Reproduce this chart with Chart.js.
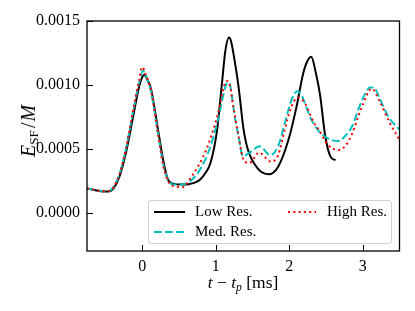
<!DOCTYPE html>
<html><head><meta charset="utf-8">
<script src="https://cdn.jsdelivr.net/npm/chart.js@4"></script>
<style>
html,body{margin:0;padding:0;background:#fff;}
#wrap{position:relative;width:415px;height:311px;overflow:hidden;font-family:"Liberation Serif",serif;color:#000;}
canvas{position:absolute;left:0;top:0;}
.ytitle{position:absolute;left:28px;top:131px;transform:translate(-50%,-50%) rotate(-90deg);font-size:20px;white-space:nowrap;line-height:1;}
.xtitle{position:absolute;left:243px;top:283px;transform:translate(-50%,-50%);font-size:17.5px;white-space:nowrap;line-height:1;}
sub{font-size:0.66em;vertical-align:-0.25em;line-height:0;font-style:normal;}
.sl{margin:0 1px 0 2px;}
.legend{position:absolute;left:148px;top:200px;width:244px;height:44px;border:1px solid #d0d0d0;border-radius:3px;background:rgba(255,255,255,0.8);box-sizing:border-box;}
.item{position:absolute;font-size:15px;line-height:1;white-space:nowrap;}
.item svg{position:absolute;}
</style>
</head><body>
<div id="wrap">
<canvas id="c" width="415" height="311"></canvas>
<div class="ytitle"><i>E</i><sub>SF</sub><span class="sl">/</span><i>M</i></div>
<div class="xtitle"><i>t</i> &minus; <i>t</i><sub><i>p</i></sub> [ms]</div>
<div class="legend" id="legend"></div>
</div>
<script>
// ---- data ----
const seriesNames = ["Low Res.", "Med. Res.", "High Res."];
const xTicks = [0, 1, 2, 3];
const yTicks = [0.0000, 0.0005, 0.0010, 0.0015];

const lowX = [-0.75,-0.54,-0.46,-0.39,-0.31,-0.22,-0.13,-0.04,0.0,0.03,0.07,0.12,0.21,0.29,0.35,0.42,0.54,0.65,0.79,0.86,0.93,1.02,1.09,1.13,1.18,1.21,1.24,1.31,1.38,1.44,1.58,1.72,1.85,1.99,2.10,2.19,2.26,2.30,2.36,2.42,2.49,2.56,2.63];
const lowY = [0.00019,0.000166,0.000165,0.00019,0.00028,0.00047,0.00073,0.00099,0.00106,0.00108,0.00104,0.00097,0.00067,0.00040,0.00026,0.000227,0.00022,0.000225,0.00026,0.00031,0.00039,0.00065,0.00104,0.00126,0.00137,0.00134,0.00125,0.00099,0.00065,0.00049,0.00034,0.00030,0.00036,0.00057,0.00083,0.00109,0.00120,0.00122,0.00110,0.00092,0.00060,0.00044,0.00041];

const medX = [-0.75,-0.54,-0.46,-0.39,-0.31,-0.22,-0.13,-0.04,0.01,0.06,0.12,0.21,0.29,0.36,0.42,0.55,0.66,0.79,0.93,1.04,1.15,1.18,1.26,1.31,1.37,1.46,1.60,1.74,1.85,1.94,2.03,2.11,2.17,2.21,2.30,2.40,2.53,2.67,2.76,2.85,2.99,3.10,3.15,3.24,3.35,3.50];
const medY = [0.00019,0.00017,0.00017,0.00020,0.00030,0.00050,0.00077,0.00102,0.00111,0.00106,0.00095,0.00064,0.00037,0.00025,0.00022,0.00022,0.00025,0.00034,0.00052,0.00075,0.00101,0.00102,0.00075,0.00060,0.00044,0.00047,0.00052,0.00045,0.00052,0.00070,0.00088,0.00095,0.00092,0.00086,0.00073,0.00064,0.00058,0.00056,0.00060,0.00067,0.00088,0.00098,0.00098,0.00088,0.00075,0.00065];

const highX = [-0.75,-0.54,-0.46,-0.39,-0.31,-0.22,-0.13,-0.04,0.0,0.05,0.12,0.21,0.29,0.36,0.45,0.55,0.67,0.87,1.02,1.15,1.18,1.24,1.31,1.39,1.46,1.59,1.75,1.85,1.94,2.03,2.12,2.21,2.33,2.40,2.53,2.67,2.76,2.85,2.99,3.12,3.24,3.37,3.50];
const highY = [0.00019,0.00017,0.00017,0.00020,0.00030,0.00050,0.00078,0.00104,0.00114,0.00108,0.00096,0.00064,0.00036,0.00024,0.000205,0.00020,0.00028,0.00049,0.00075,0.00103,0.00102,0.00083,0.00060,0.00040,0.00039,0.00047,0.00040,0.00045,0.00065,0.00083,0.00090,0.00086,0.00071,0.00065,0.00053,0.00049,0.00052,0.00061,0.00083,0.00097,0.00086,0.00070,0.00057];

const toPts = (xs, ys) => xs.map((x, i) => ({x, y: ys[i]}));

const styles = [
  {color:'#000000', dash:[], order:3},
  {color:'#00bfbf', dash:[7.7,3.3], order:2},
  {color:'#ff0000', dash:[2,3.3], order:1}
];
const dataSeries = [toPts(lowX, lowY), toPts(medX, medY), toPts(highX, highY)];

const datasets = dataSeries.map((d, i) => ({
  label: seriesNames[i],
  data: d,
  showLine: true,
  borderColor: styles[i].color,
  borderDash: styles[i].dash,
  borderWidth: 2,
  pointRadius: 0,
  tension: 0.4,
  cubicInterpolationMode: 'monotone',
  fill: false,
  order: styles[i].order
}));

const frameTicks = {
  id: 'frameTicks',
  afterDraw(chart) {
    const {ctx, chartArea: a, scales: {x, y}} = chart;
    ctx.save();
    ctx.strokeStyle = '#000';
    ctx.lineWidth = 1;
    x.ticks.forEach(t => {
      const px = Math.round(x.getPixelForValue(t.value)) + 0.5;
      ctx.beginPath(); ctx.moveTo(px, a.bottom); ctx.lineTo(px, a.bottom - 6); ctx.stroke();
    });
    y.ticks.forEach(t => {
      const py = Math.round(y.getPixelForValue(t.value)) + 0.5;
      ctx.beginPath(); ctx.moveTo(a.left, py); ctx.lineTo(a.left + 6, py); ctx.stroke();
    });
    ctx.lineWidth = 1.3;
    ctx.strokeRect(a.left, a.top, a.right - a.left, a.bottom - a.top);
    ctx.restore();
  }
};

const tickFont = {family: '"Liberation Serif", serif', size: 16};

new Chart(document.getElementById('c'), {
  type: 'scatter',
  data: {datasets},
  options: {
    responsive: false,
    animation: false,
    devicePixelRatio: 1,
    layout: {padding: {left: 0, right: 15.5, top: 21, bottom: 0}},
    plugins: {legend: {display: false}, tooltip: {enabled: false}},
    scales: {
      x: {
        type: 'linear', min: -0.75, max: 3.5,
        afterBuildTicks: s => { s.ticks = xTicks.map(v => ({value: v})); },
        afterFit: s => { s.height = 60; },
        grid: {display: false, drawTicks: false},
        border: {display: false},
        ticks: {font: tickFont, color: '#000', padding: 6, callback: v => String(v), maxRotation: 0}
      },
      y: {
        type: 'linear', min: -0.0003, max: 0.0015,
        afterBuildTicks: s => { s.ticks = yTicks.map(v => ({value: v})); },
        afterFit: s => { s.width = 87; },
        grid: {display: false, drawTicks: false},
        border: {display: false},
        ticks: {font: tickFont, color: '#000', padding: 7, callback: v => Number(v).toFixed(4)}
      }
    }
  },
  plugins: [frameTicks]
});

// HTML legend built from datasets
const legend = document.getElementById('legend');
const pos = [
  {lx: 4, rx: 35, y: 11, tx: 46},
  {lx: 4, rx: 35, y: 31, tx: 46},
  {lx: 138, rx: 166, y: 11, tx: 178}
];
datasets.forEach((ds, i) => {
  const p = pos[i];
  const svgNS = 'http://www.w3.org/2000/svg';
  const svg = document.createElementNS(svgNS, 'svg');
  svg.setAttribute('width', p.rx - p.lx + 2);
  svg.setAttribute('height', 6);
  svg.style.position = 'absolute';
  svg.style.left = p.lx + 'px';
  svg.style.top = (p.y - 3) + 'px';
  const ln = document.createElementNS(svgNS, 'line');
  ln.setAttribute('x1', 1); ln.setAttribute('x2', p.rx - p.lx + 1);
  ln.setAttribute('y1', 3); ln.setAttribute('y2', 3);
  ln.setAttribute('stroke', ds.borderColor);
  ln.setAttribute('stroke-width', 2);
  if (ds.borderDash.length) ln.setAttribute('stroke-dasharray', ds.borderDash.join(' '));
  svg.appendChild(ln);
  legend.appendChild(svg);
  const t = document.createElement('div');
  t.className = 'item';
  t.textContent = ds.label;
  t.style.left = p.tx + 'px';
  t.style.top = (p.y - 8) + 'px';
  legend.appendChild(t);
});
</script>
</body></html>
